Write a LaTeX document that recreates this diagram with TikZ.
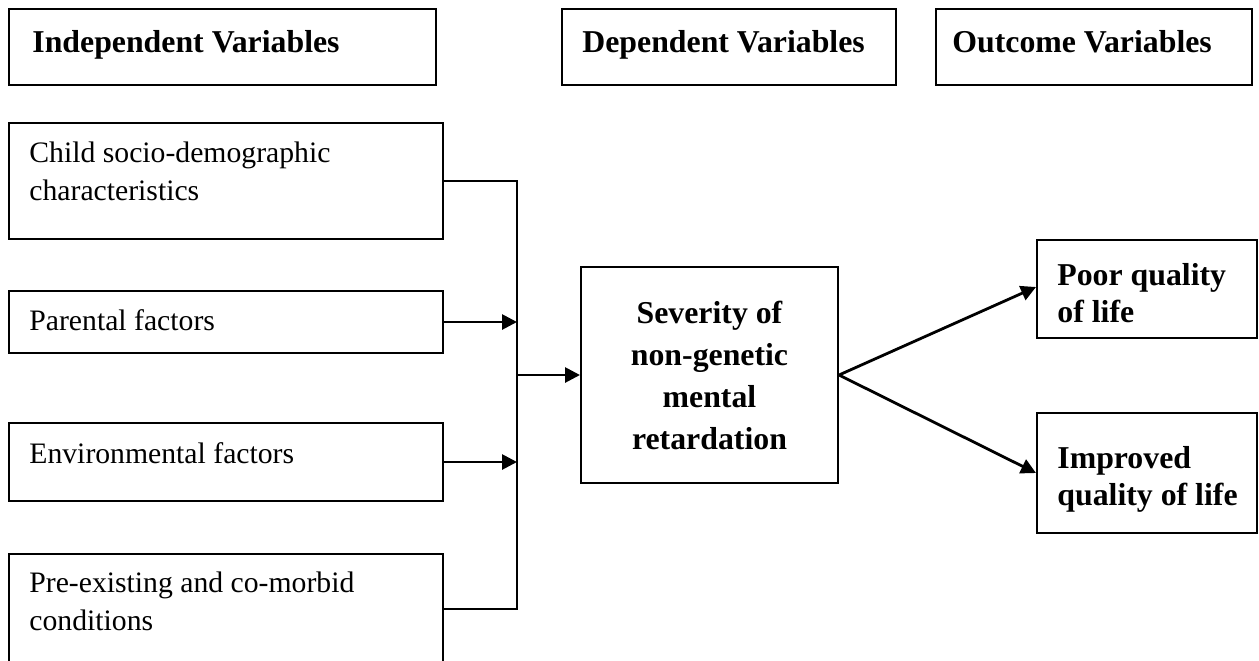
\documentclass[tikz,border=0pt]{standalone}
\usepackage{fontspec}
\setmainfont{Liberation Serif}
\usetikzlibrary{arrows.meta}
\begin{document}
\begin{tikzpicture}[x=0.5pt,y=-0.5pt,
  box/.style={draw=black, line width=1pt, rectangle, inner sep=0pt},
  reg/.style={inner sep=0pt, anchor=base west, font=\fontsize{14.85}{19}\selectfont},
  bld/.style={inner sep=0pt, anchor=base west, font=\fontsize{15.9}{18.5}\selectfont\bfseries},
  ctr/.style={inner sep=0pt, anchor=base, font=\fontsize{15.9}{21}\selectfont\bfseries},
  conn/.style={line width=1.4pt, line join=miter},
  arr/.style={conn, -{Triangle[length=7.5pt,width=7.5pt]}}]
\clip (0,0) rectangle (1259,660);
\useasboundingbox (0,0) rectangle (1259,660);

% header boxes
\node[box, minimum width=213.5pt, minimum height=38pt] (ind) at (222.5,47) {};
\node[box, minimum width=167pt, minimum height=38pt] (dep) at (729,47) {};
\node[box, minimum width=158pt, minimum height=38pt] (out) at (1094,47) {};
\node[bld] (indt) at (32,52) {Independent Variables};
\node[bld] (dept) at (582,52) {Dependent Variables};
\node[bld] (outt) at (952,52) {Outcome Variables};

% left boxes
\node[box, minimum width=217pt, minimum height=58pt] (child) at (226,181) {};
\node[box, minimum width=217pt, minimum height=31pt] (par) at (226,322) {};
\node[box, minimum width=217pt, minimum height=39pt] (env) at (226,462) {};
\node[box, minimum width=217pt, minimum height=55pt] (pre) at (226,609) {};
\node[reg] (childt) at (29,162) {\begin{tabular}[t]{@{}l@{}}Child socio-demographic\\characteristics\end{tabular}};
\node[reg] (part) at (29,330) {Parental factors};
\node[reg] (envt) at (29,463) {Environmental factors};
\node[reg] (pret) at (29,592) {\begin{tabular}[t]{@{}l@{}}Pre-existing and co-morbid\\conditions\end{tabular}};

% centre box
\node[box, minimum width=128.5pt, minimum height=108pt] (sev) at (709.5,375) {};
\node[ctr] (sevt) at (709.5,323) {\begin{tabular}[t]{@{}c@{}}Severity of\\non-genetic\\mental\\retardation\end{tabular}};

% outcome boxes
\node[box, minimum width=110pt, minimum height=49pt] (poor) at (1147,289) {};
\node[box, minimum width=110pt, minimum height=60pt] (imp) at (1147,473) {};
\node[bld] (poort) at (1057,285) {\begin{tabular}[t]{@{}l@{}}Poor quality\\of life\end{tabular}};
\node[bld] (impt) at (1057,468) {\begin{tabular}[t]{@{}l@{}}Improved\\quality of life\end{tabular}};

% connectors
\coordinate (vtop) at (517,181);
\coordinate (vbot) at (517,609);
\coordinate (j) at (517,375);
\draw[conn] (child.east) -- (vtop) -- (vbot) -- (pre.east);
\draw[arr] (par.east) -- (par.east -| vtop);
\draw[arr] (env.east) -- (env.east -| vtop);
\draw[arr] (j) -- (sev.west);
\draw[arr] (sev.east) -- ([yshift=1pt]poor.west);
\draw[arr] (sev.east) -- (imp.west);
\end{tikzpicture}
\end{document}
